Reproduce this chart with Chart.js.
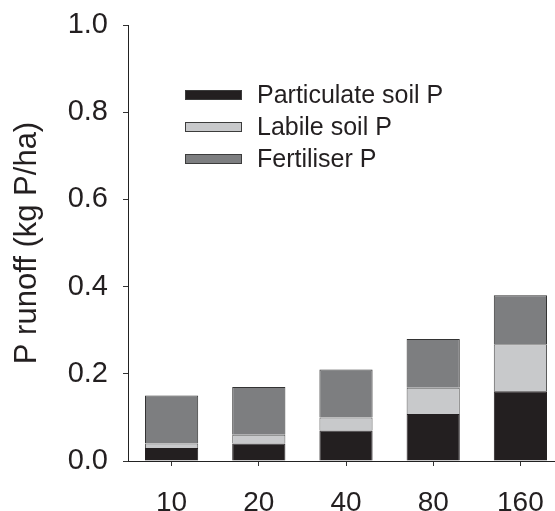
<!DOCTYPE html>
<html>
<head>
<meta charset="utf-8">
<script src="https://cdn.jsdelivr.net/npm/chart.js@4"></script>
<style>
  html, body { margin: 0; padding: 0; background: #fff; overflow: hidden; }
  #wrap { width: 555px; height: 511px; overflow: hidden; }
  canvas { display: block; }
</style>
</head>
<body>
<div id="wrap"><canvas id="chart" width="564" height="511"></canvas></div>
<script>
/* P runoff by application rate, stacked by P source. */

const rates = ['10', '20', '40', '80', '160'];
const particulate = [0.03, 0.04, 0.07, 0.108, 0.16];
const labile = [0.01, 0.02, 0.03, 0.06, 0.108];
const fertiliser = [0.11, 0.11, 0.11, 0.112, 0.112];
const yTicks = [0, 0.2, 0.4, 0.6, 0.8, 1.0];

const TEXT = '#231f20';
const FONT = '"Liberation Sans", Arial, sans-serif';

// legend drawn inside the plot, boxes left of the labels
const innerLegend = {
  id: 'innerLegend',
  afterDraw(chart) {
    const ctx = chart.ctx;
    const rows = [0, 1, 2];
    ctx.save();
    ctx.font = '25px ' + FONT;
    ctx.textBaseline = 'middle';
    ctx.textAlign = 'left';
    rows.forEach((i) => {
      const ds = chart.data.datasets[i];
      const cy = 95 + i * 32;
      ctx.fillStyle = ds.backgroundColor;
      ctx.fillRect(185, cy - 5, 57, 10);
      ctx.strokeStyle = '#3c3c3c';
      ctx.lineWidth = 1;
      ctx.strokeRect(185.5, cy - 4.5, 56, 9);
      ctx.fillStyle = TEXT;
      ctx.fillText(ds.label, 257, cy + 1);
    });
    ctx.restore();
  },
};

new Chart(document.getElementById('chart'), {
  type: 'bar',
  data: {
    labels: rates,
    datasets: [
      { label: 'Particulate soil P', data: particulate, backgroundColor: '#231f20', borderColor: '#231f20' },
      { label: 'Labile soil P', data: labile, backgroundColor: '#c8c9cb', borderColor: '#5a5a5a' },
      { label: 'Fertiliser P', data: fertiliser, backgroundColor: '#7d7e80', borderColor: '#333333' },
    ],
  },
  options: {
    responsive: false,
    animation: false,
    layout: { padding: { top: 25, right: 0, bottom: 0, left: 0 } },
    datasets: {
      bar: { barPercentage: 0.61, categoryPercentage: 1, borderWidth: 1 },
    },
    plugins: {
      legend: { display: false },
      tooltip: { enabled: false },
    },
    scales: {
      x: {
        stacked: true,
        afterFit: (s) => { s.height = 50; s.paddingLeft = 0; s.paddingRight = 0; },
        grid: { display: true, drawOnChartArea: false, drawTicks: true, tickLength: 5, offset: false, color: '#333' },
        border: { display: true, color: '#222', width: 1 },
        ticks: { color: TEXT, font: { family: FONT, size: 28 }, padding: 20, maxRotation: 0 },
      },
      y: {
        stacked: true,
        min: 0,
        max: 1,
        afterFit: (s) => { s.width = 128; s.paddingTop = 0; s.paddingBottom = 0; },
        afterBuildTicks: (s) => { s.ticks = yTicks.map((v) => ({ value: v })); },
        grid: { display: true, drawOnChartArea: false, drawTicks: true, tickLength: 5, color: '#333' },
        border: { display: true, color: '#222', width: 1 },
        ticks: {
          color: TEXT,
          font: { family: FONT, size: 29 },
          padding: 15,
          callback: (v) => Number(v).toFixed(1),
        },
        title: {
          display: true,
          text: 'P runoff (kg P/ha)',
          color: TEXT,
          font: { family: FONT, size: 31, weight: 'normal' },
          padding: { top: 9, bottom: 0 },
        },
      },
    },
  },
  plugins: [innerLegend],
});
</script>
</body>
</html>
